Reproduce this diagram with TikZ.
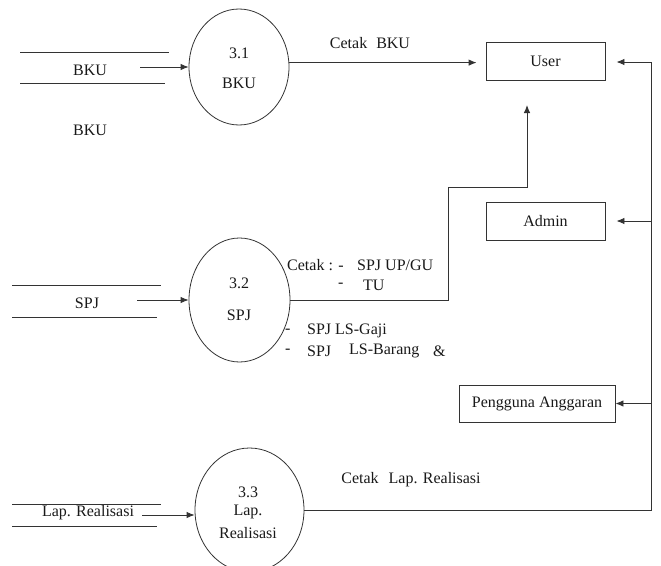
\documentclass[tikz,border=0pt]{standalone}
\usepackage{fontspec}
\setmainfont{Liberation Serif}
\usetikzlibrary{shapes.geometric,arrows.meta,calc}
\begin{document}
\begin{tikzpicture}[x=1pt,y=-1pt,
  every node/.style={font=\fontsize{16}{18}\selectfont, text=black!90},
  ln/.style={line width=0.9pt, draw=black!80},
  arr/.style={ln, -{Latex[length=8pt,width=6.5pt]}},
  proc/.style={ellipse, draw=black!80, line width=0.8pt, inner sep=0pt},
  ent/.style={rectangle, draw=black!80, line width=0.9pt, inner sep=0pt},
  lbl/.style={inner sep=0pt}]
\useasboundingbox (0,0) rectangle (661,565);
\clip (0,0) rectangle (661,565);
% processes
\node[proc, minimum width=100pt, minimum height=116pt] (p1) at (239,67) {};
\node[proc, minimum width=101pt, minimum height=124pt] (p2) at (239.5,300) {};
\node[proc, minimum width=109pt, minimum height=124pt] (p3) at (249.5,510) {};
\node[lbl] (p1n) at (239,53) {3.1};
\node[lbl] (p1t) at (239,83) {BKU};
\node[lbl] (p2n) at (239,283) {3.2};
\node[lbl] (p2t) at (239,315) {SPJ};
\node[lbl] (p3n) at (248,492) {3.3};
\node[lbl] (p3a) at (248,512) {Lap.};
\node[lbl] (p3b) at (248,533) {Realisasi};
% data stores
\node[lbl] (s1) at (90,70) {BKU};
\draw[ln] (20,52) -- (169,52);
\draw[ln] (20,83) -- (165,83);
\node[lbl] (s1x) at (90,130) {BKU};
\coordinate (s1o) at (140,67);
\draw[arr] (s1o) -- (p1.west);
\node[lbl] (s2) at (87,303) {SPJ};
\draw[ln] (12,285) -- (161,285);
\draw[ln] (12,317) -- (157,317);
\coordinate (s2o) at (137,300);
\draw[arr] (s2o) -- (p2.west);
\node[lbl] (s3) at (88,513) {Lap. Realisasi};
\draw[ln] (12,504) -- (161,504);
\draw[ln] (12,526) -- (157,526);
\coordinate (s3o) at (142,515);
\draw[arr] (s3o) -- (s3o -| p3.west);
% entities
\node[ent, minimum width=119pt, minimum height=38pt] (user) at (545.5,61) {User};
\node[ent, minimum width=119pt, minimum height=38pt] (admin) at (545.5,221) {Admin};
\node[ent, minimum width=156pt, minimum height=37pt] (pa) at (537,403.5) {Pengguna Anggaran};
% flows
\draw[arr, shorten >=9pt] (p1.5) -- (p1.5 -| user.west);
\node[lbl] (l1) at (370,43) {Cetak\hspace{9pt}BKU};
\coordinate (b1) at (448,187);
\coordinate (ut) at (527,105);
\draw[arr] (p2.east) -- (p2.east -| b1) -- (b1) -- (b1 -| ut) -- (ut);
\node[lbl, anchor=west] (l2a) at (287,265) {Cetak : -};
\node[lbl, anchor=west] (l2b) at (357,265) {SPJ UP/GU};
\node[lbl, anchor=west] (l2c) at (338,285) {-};
\node[lbl, anchor=west] (l2d) at (363,285) {TU};
\node[lbl, anchor=west] (l2e) at (285,331) {-};
\node[lbl, anchor=west] (l2f) at (307,331) {SPJ LS-Gaji};
\node[lbl, anchor=west] (l2g) at (285,351) {-};
\node[lbl, anchor=west] (l2h) at (307,351) {SPJ};
\node[lbl, anchor=west] (l2i) at (349,351) {LS-Barang};
\node[lbl, anchor=west] (l2j) at (433,351) {\&};
\coordinate (bt) at (651,62);
\draw[ln] (p3.east) -- (p3.east -| bt) -- (bt);
\draw[arr, shorten >=11pt] (bt) -- (bt -| user.east);
\draw[arr, shorten >=11pt] (bt |- admin) -- (admin.east);
\draw[arr] (bt |- pa) -- (pa.east);
\node[lbl] (l3) at (411,480) {Cetak\hspace{10pt}Lap. Realisasi};
\end{tikzpicture}
\end{document}
